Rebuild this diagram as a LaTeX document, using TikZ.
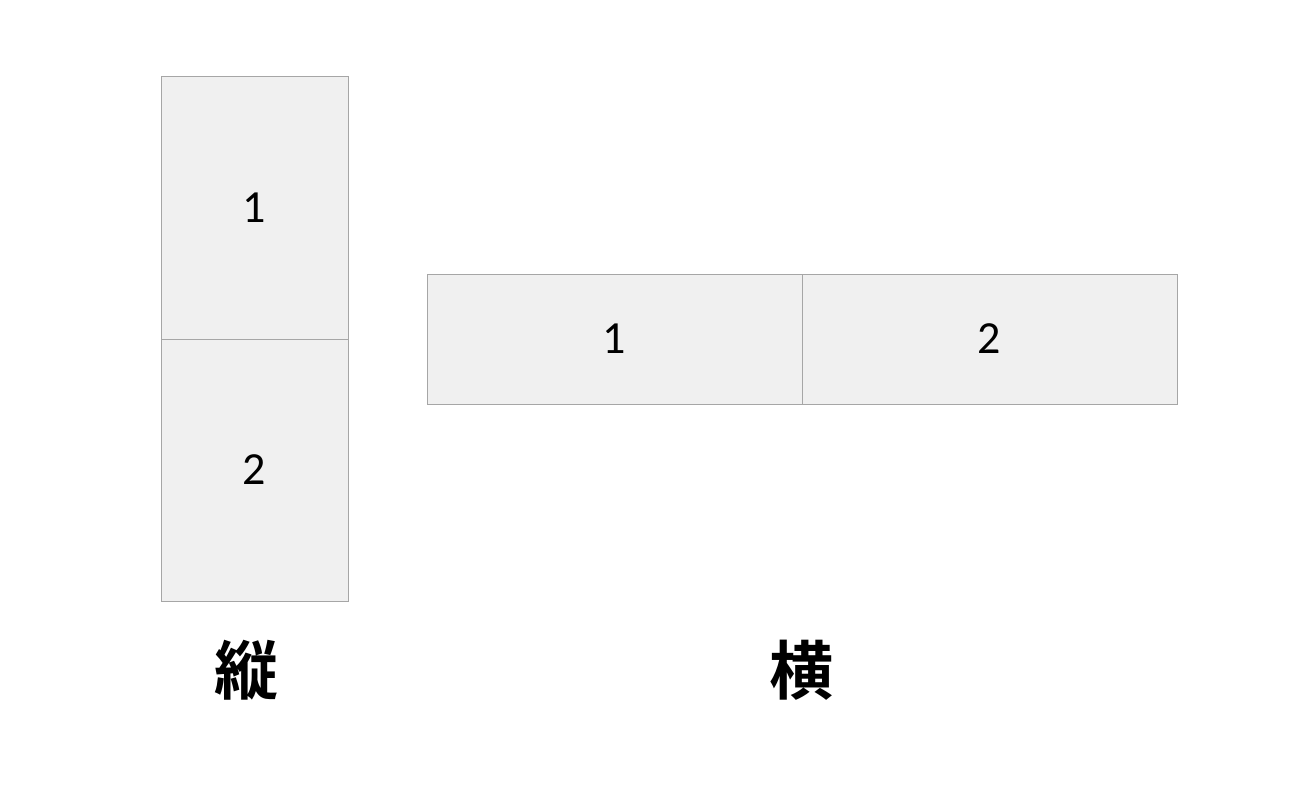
\documentclass[tikz,border=0pt]{standalone}
\usepackage{fontspec}
\setmainfont{Carlito}
\newfontfamily\cjk{Noto Sans CJK JP}[BoldFont={* Bold}]
\begin{document}
\begin{tikzpicture}[x=1pt,y=-1pt,
  cell/.style={draw=black!35,fill=black!6,line width=1pt,inner sep=0,font=\fontsize{46}{50}\selectfont},
  lbl/.style={font=\cjk\bfseries\fontsize{64}{70}\selectfont}]
\useasboundingbox (0,0) rectangle (1315,800);
\node[cell,minimum width=187,minimum height=262] (v1) at (254.5,208) {1};
\node[cell,minimum width=187,minimum height=262] (v2) at (254.5,470) {2};
\node[cell,minimum width=375,minimum height=130] (h1) at (614.5,339) {1};
\node[cell,minimum width=375,minimum height=130] (h2) at (989.5,339) {2};
\node[lbl] (tl) at (246,670) {縦};
\node[lbl] (yl) at (801,670) {横};
\end{tikzpicture}
\end{document}
